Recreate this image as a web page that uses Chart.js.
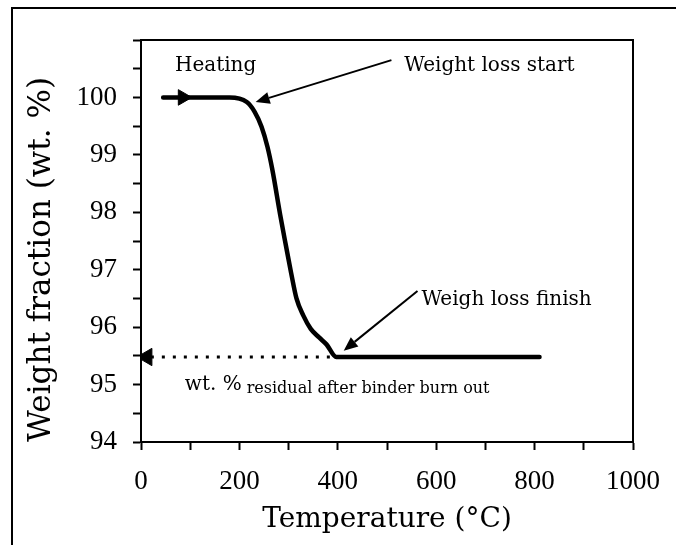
<!DOCTYPE html>
<html>
<head>
<meta charset="utf-8">
<script src="https://cdn.jsdelivr.net/npm/chart.js@4/dist/chart.umd.min.js"></script>
<style>
  html, body { margin: 0; padding: 0; background: #fff; overflow: hidden; }
  #frame { position: absolute; left: 11px; top: 7px; width: 700px; height: 600px;
           border-left: 2px solid #000; border-top: 2px solid #000; }
  #wrap { position: absolute; left: 0; top: 0; width: 676px; height: 545px; }
</style>
</head>
<body>
<div id="frame"></div>
<div id="wrap"><canvas id="tga" width="676" height="545"></canvas></div>
<script>
// TGA curve
const temperature = [45, 100, 180, 215, 231, 245, 257, 267, 283, 295, 305, 316, 330, 345, 362, 377, 397, 500, 650, 810];
const weight      = [100, 100, 100, 99.92, 99.75, 99.49, 99.14, 98.74, 97.95, 97.4, 96.95, 96.5, 96.2, 95.97, 95.82, 95.7, 95.48, 95.48, 95.48, 95.48];

// residual level guide line and its arrow
const residualT = [20, 397];
const residualW = [95.48, 95.48];

// heating direction marker on the curve
const heatingMarkT = [85];
const heatingMarkW = [100];

const xTicks = [0, 200, 400, 600, 800, 1000];
const yTicks = [94, 95, 96, 97, 98, 99, 100];

// text labels and arrows, in data units
const notes = [
  { text: 'Heating', t: 69, w: 100.55 },
  { text: 'Weight loss start', t: 535, w: 100.55 },
  { text: 'Weigh loss finish', t: 570, w: 96.47 }
];
const arrows = [
  { t0: 509, w0: 100.65, t1: 233, w1: 99.92 },
  { t0: 562, w0: 96.63, t1: 412, w1: 95.59 }
];
const residualNote = { main: 'wt. %', sub: 'residual after binder burn out', t: 89, w: 94.99 };

function pts(xs, ys) {
  return xs.map((x, i) => ({ x: x, y: ys[i] }));
}

const boxPlugin = {
  id: 'boxAndNotes',
  afterDatasetsDraw(chart) {
    const ctx = chart.ctx;
    const a = chart.chartArea;
    const xs = chart.scales.x, ys = chart.scales.y;
    ctx.save();
    ctx.strokeStyle = '#000';
    ctx.lineWidth = 2;
    ctx.strokeRect(a.left, a.top, a.right - a.left, a.bottom - a.top);

    // arrows
    arrows.forEach(ar => {
      const x0 = xs.getPixelForValue(ar.t0), y0 = ys.getPixelForValue(ar.w0);
      const x1 = xs.getPixelForValue(ar.t1), y1 = ys.getPixelForValue(ar.w1);
      const ang = Math.atan2(y1 - y0, x1 - x0);
      const len = 14, half = 6;
      const bx = x1 - len * Math.cos(ang), by = y1 - len * Math.sin(ang);
      ctx.lineWidth = 2;
      ctx.beginPath();
      ctx.moveTo(x0, y0);
      ctx.lineTo(bx, by);
      ctx.stroke();
      ctx.beginPath();
      ctx.moveTo(x1, y1);
      ctx.lineTo(bx + half * Math.sin(ang), by - half * Math.cos(ang));
      ctx.lineTo(bx - half * Math.sin(ang), by + half * Math.cos(ang));
      ctx.closePath();
      ctx.fillStyle = '#000';
      ctx.fill();
    });

    // text
    ctx.fillStyle = '#000';
    ctx.textBaseline = 'middle';
    ctx.textAlign = 'left';
    ctx.font = '20px "DejaVu Serif"';
    notes.forEach(n => {
      ctx.fillText(n.text, xs.getPixelForValue(n.t), ys.getPixelForValue(n.w));
    });
    const rx = xs.getPixelForValue(residualNote.t), ry = ys.getPixelForValue(residualNote.w);
    ctx.font = '20px "DejaVu Serif"';
    ctx.fillText(residualNote.main, rx, ry);
    const mw = ctx.measureText(residualNote.main).width;
    ctx.font = '16px "DejaVu Serif"';
    ctx.fillText(residualNote.sub, rx + mw + 5, ry + 4);
    ctx.restore();
  }
};

new Chart(document.getElementById('tga'), {
  type: 'line',
  data: {
    datasets: [
      {
        data: pts(temperature, weight),
        borderColor: '#000',
        borderWidth: 4.5,
        borderCapStyle: 'round',
        cubicInterpolationMode: 'monotone',
        pointRadius: 0
      },
      {
        data: pts(residualT, residualW),
        borderColor: '#000',
        borderWidth: 3,
        borderDash: [3, 8],
        pointRadius: 0
      },
      {
        data: [{ x: 12, y: residualW[0] }],
        showLine: false,
        pointStyle: 'triangle',
        rotation: -90,
        pointRadius: 10,
        backgroundColor: '#000',
        borderColor: '#000'
      },
      {
        data: pts(heatingMarkT, heatingMarkW),
        showLine: false,
        pointStyle: 'triangle',
        rotation: 90,
        pointRadius: 9,
        backgroundColor: '#000',
        borderColor: '#000'
      }
    ]
  },
  options: {
    responsive: false,
    animation: false,
    events: [],
    layout: { padding: { left: 0, top: 40, right: 42, bottom: 0 } },
    plugins: { legend: { display: false }, tooltip: { enabled: false } },
    scales: {
      x: {
        type: 'linear',
        min: 0,
        max: 1000,
        afterFit: s => { s.height = 103; },
        border: { display: true, color: '#000', width: 2 },
        grid: { drawOnChartArea: false, drawTicks: true, tickLength: 8, tickColor: '#000', tickWidth: 2 },
        ticks: {
          stepSize: 100,
          color: '#000',
          padding: 16,
          maxRotation: 0,
          autoSkip: false,
          font: { family: '"Liberation Serif"', size: 27 },
          callback: v => xTicks.includes(v) ? v : ''
        },
        title: {
          display: true,
          text: 'Temperature (°C)',
          color: '#000',
          font: { family: '"DejaVu Serif"', size: 28 },
          padding: { top: 0, bottom: 8 }
        }
      },
      y: {
        type: 'linear',
        min: 94,
        max: 101,
        afterFit: s => { s.width = 141; },
        border: { display: true, color: '#000', width: 2 },
        grid: { drawOnChartArea: false, drawTicks: true, tickLength: 8, tickColor: '#000', tickWidth: 2 },
        ticks: {
          stepSize: 0.5,
          color: '#000',
          padding: 16,
          autoSkip: false,
          font: { family: '"Liberation Serif"', size: 27 },
          callback: v => yTicks.includes(v) ? v : ''
        },
        title: {
          display: true,
          text: 'Weight fraction (wt. %)',
          color: '#000',
          align: 'start',
          font: { family: '"DejaVu Serif"', size: 31 },
          padding: { top: 23, bottom: 0 }
        }
      }
    }
  },
  plugins: [boxPlugin]
});
</script>
</body>
</html>
